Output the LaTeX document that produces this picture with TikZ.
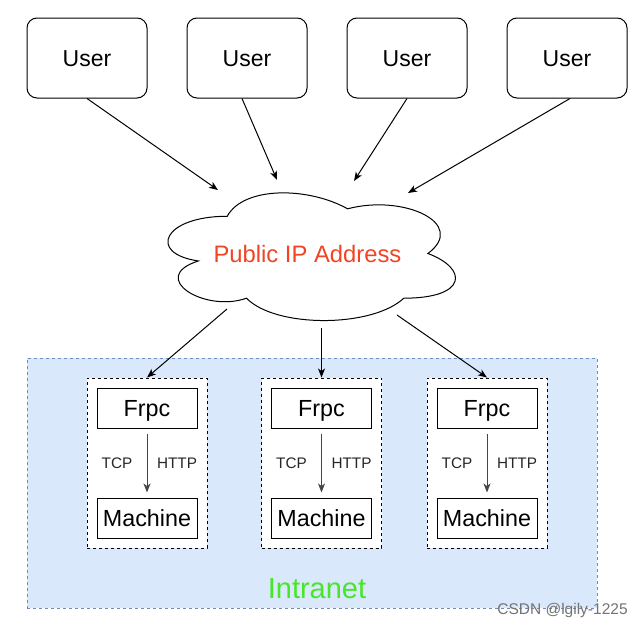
\documentclass[tikz,border=0pt]{standalone}
\usepackage{fontspec}
\setmainfont{Liberation Sans}
\usetikzlibrary{arrows.meta,shapes.geometric}
\definecolor{intrafill}{HTML}{DAE8FC}
\definecolor{intraline}{HTML}{6C8EBF}
\definecolor{ipred}{RGB}{240,68,36}
\definecolor{intragreen}{RGB}{70,230,40}
\definecolor{innerarrow}{RGB}{70,70,70}
\tikzset{
  base/.style={line width=1pt},
  capcenter/.style={text height=#1,text depth=0pt},
  userbox/.style={base,draw,rounded corners=10pt,minimum width=120pt,minimum height=80pt,inner sep=0pt,font=\fontsize{23}{27}\selectfont,capcenter=16.5pt},
  smallbox/.style={base,draw,fill=white,minimum width=100pt,minimum height=40pt,inner sep=0pt,font=\fontsize{23.3}{27}\selectfont,capcenter=16.7pt},
  groupbox/.style={base,draw,dashed,dash pattern=on 3pt off 3pt,fill=white,minimum width=120pt,minimum height=170pt,inner sep=0pt},
  arr/.style={base,-{Stealth[length=9pt,width=7pt,inset=2.5pt]}},
  innerarr/.style={base,draw=innerarrow,-{Stealth[length=9pt,width=7pt,inset=2.5pt]},shorten <=5pt,shorten >=5pt},
  proto/.style={font=\fontsize{15.3}{18}\selectfont,text=black!85,inner sep=0pt,capcenter=11pt},
}
\begin{document}
\begin{tikzpicture}[x=1pt,y=-1pt]
\useasboundingbox (0,0) rectangle (644,629);
% users
\node[userbox] (u1) at (87,58) {User};
\node[userbox] (u2) at (247,58) {User};
\node[userbox] (u3) at (407,58) {User};
\node[userbox] (u4) at (567,58) {User};
% cloud
\begin{scope}[shift={(147,179)},x=321pt,y=-149pt,base]
\draw (0.25,0.25) .. controls (0.05,0.25) and (0,0.5) .. (0.16,0.55)
  .. controls (0,0.66) and (0.18,0.9) .. (0.31,0.8)
  .. controls (0.4,1) and (0.7,1) .. (0.8,0.8)
  .. controls (1,0.8) and (1,0.6) .. (0.875,0.5)
  .. controls (1,0.3) and (0.8,0.1) .. (0.625,0.2)
  .. controls (0.5,0.05) and (0.3,0.05) .. (0.25,0.25) -- cycle;
\end{scope}
\node[ellipse,minimum width=321pt,minimum height=149pt,inner sep=0pt,text=ipred,font=\fontsize{23.8}{28}\selectfont,capcenter=17pt] (cloud) at (307.5,253.5) {Public IP Address};
% user arrow ends
\coordinate (e1) at (218,190);
\coordinate (e2) at (277,180);
\coordinate (e3) at (354,181);
\coordinate (e4) at (408,193);
\draw[arr] (u1.south) -- (e1);
\draw[arr] ([xshift=-5pt]u2.south) -- (e2);
\draw[arr] (u3.south) -- (e3);
\draw[arr] ([xshift=3pt]u4.south) -- (e4);
% intranet
\node[base,draw=intraline,fill=intrafill,dashed,dash pattern=on 3pt off 3pt,minimum width=570pt,minimum height=250pt,inner sep=0pt] (intra) at (312,483) {};
\node[text=intragreen,font=\fontsize{29}{34}\selectfont,inner sep=0pt,capcenter=20.8pt] (intralabel) at (317,588) {Intranet};
% groups
\foreach \i/\x in {1/147,2/321.5,3/487}{
  \node[groupbox] (b\i) at (\x,463) {};
  \node[smallbox] (f\i) at (\x,408) {Frpc};
  \node[smallbox] (m\i) at (\x,518) {Machine};
  \draw[innerarr] (f\i.south) -- (m\i.north);
  \node[proto] (tcp\i) at (\x-30,463) {TCP};
  \node[proto] (http\i) at (\x+30,463) {HTTP};
}
% cloud arrows
\coordinate (s1) at (227,309);
\coordinate (s2) at (321.5,328);
\coordinate (s3) at (397,315);
\draw[arr] (s1) -- (b1.north);
\draw[arr] (s2) -- (b2.north);
\draw[arr] (s3) -- (b3.north);
% watermark
\node[text=black!55,font=\fontsize{15.5}{18}\selectfont,inner sep=0pt,capcenter=11.1pt] (wm) at (562.5,609) {CSDN @lgily-1225};
\end{tikzpicture}
\end{document}
